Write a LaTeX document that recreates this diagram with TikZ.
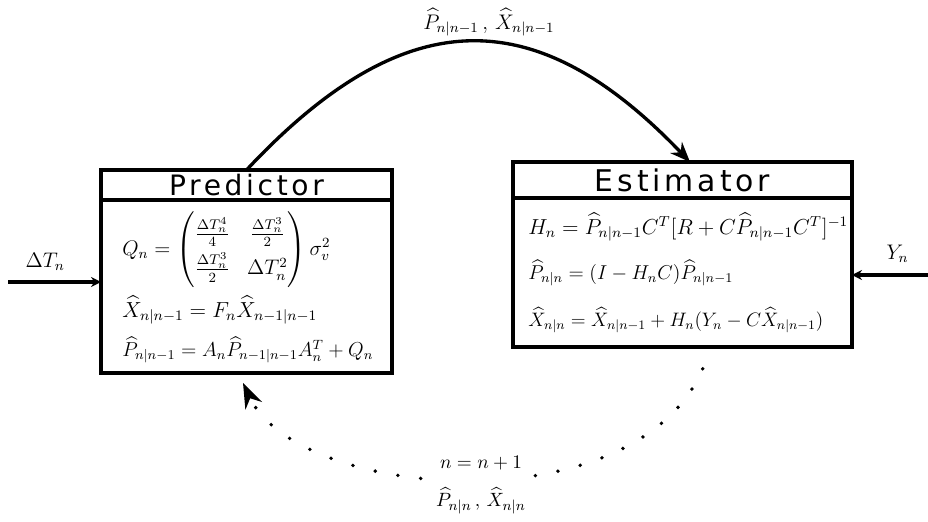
\documentclass[tikz,border=0pt]{standalone}
\usepackage{amsmath}
\usepackage{graphicx}
\usepackage{fontspec}
\newfontfamily\titlefont[LetterSpace=13]{DejaVu Sans}
\usetikzlibrary{positioning, arrows.meta}
\tikzset{
  boxtitle/.style={
    rectangle, draw, line width=1.9pt, inner sep=0pt, outer sep=0pt,
    font=\titlefont\fontsize{16}{18}\selectfont
  },
  boxbody/.style={rectangle, draw, line width=1.9pt, inner sep=0pt, outer sep=0pt},
  eqn/.style={anchor=west, inner sep=0pt, font=\fontsize{12}{14}\selectfont},
  flowarrow/.style={-{Stealth[length=4mm, width=3.2mm]}, line width=1.9pt},
  looparrow/.style={
    -{Stealth[length=5mm, width=3.6mm]}, line width=2.2pt,
    line cap=round, dash pattern=on 0pt off 13.1pt
  },
  inarrow/.style={-{Stealth[length=2mm, width=2mm]}, line width=1.9pt},
  lbl/.style={font=\fontsize{12}{14}\selectfont},
  looplbl/.style={font=\fontsize{10.95}{13}\selectfont, fill=white, align=center}
}
\newcommand{\eqw}[2]{\resizebox{#1}{!}{$#2$}}

\begin{document}
\begin{tikzpicture}[x=0.02cm, y=-0.02cm]
\useasboundingbox (0,0) rectangle (928,521);

% Predictor block
\node[boxtitle, minimum width=5.82cm, minimum height=0.6cm] (predtitle) at (246.5,185) {Predictor};
\node[boxbody, minimum width=5.82cm, minimum height=3.46cm, below=0pt of predtitle] (predbody) {};

% Estimator block
\node[boxtitle, minimum width=6.78cm, minimum height=0.72cm, font=\titlefont\fontsize{17}{19}\selectfont] (esttitle) at (682.5,180) {Estimator};
\node[boxbody, minimum width=6.78cm, minimum height=2.98cm, below=0pt of esttitle] (estbody) {};

% Predictor equations
\node[eqn, font=\fontsize{12}{15}\selectfont] (qn) at (122,250) {\renewcommand{\arraystretch}{1.35}%
  $Q_n = \begin{pmatrix} \frac{\Delta T_n^4}{4} & \frac{\Delta T_n^3}{2} \\ \frac{\Delta T_n^3}{2} & \Delta T_n^2 \end{pmatrix} \sigma_v^2$};
\node[eqn] (xpred) at (122,310) {\eqw{3.9cm}{\widehat{X}_{n|n-1} = F_n \widehat{X}_{n-1|n-1}}};
\node[eqn] (ppred) at (122,350) {\eqw{5.02cm}{\widehat{P}_{n|n-1} = A_n \widehat{P}_{n-1|n-1} A_n^T + Q_n}};

% Estimator equations
\node[eqn] (hn) at (528,227) {\eqw{6.4cm}{H_n = \widehat{P}_{n|n-1} C^T [R + C \widehat{P}_{n|n-1} C^T]^{-1}}};
\node[eqn] (pest) at (528,273) {\eqw{4.1cm}{\widehat{P}_{n|n} = (I - H_n C)\widehat{P}_{n|n-1}}};
\node[eqn] (xest) at (528,320) {\eqw{5.9cm}{\widehat{X}_{n|n} = \widehat{X}_{n|n-1} + H_n(Y_n - C\widehat{X}_{n|n-1})}};

% Inputs
\coordinate (dtin) at (8,282);
\coordinate (ynin) at (928,275);
\draw[inarrow] (dtin) -- (dtin -| predbody.west)
  node[pos=0.4, above=2pt, font=\fontsize{12}{14}\selectfont] {$\Delta T_n$};
\draw[inarrow] (ynin) -- (ynin -| estbody.east)
  node[pos=0.4, above=3pt, font=\fontsize{12}{14}\selectfont] {$Y_n$};

% Prediction to estimator
\draw[flowarrow] (predtitle.north) .. controls +(160,-171) and +(-153,-160) .. ([xshift=0.15cm]esttitle.north)
  node[pos=0.5, above=-1pt, xshift=0.36cm, lbl] {$\widehat{P}_{n|n-1}\,,\,\widehat{X}_{n|n-1}$};

% Estimate fed back
\draw[looparrow] ([xshift=0.55cm]estbody.south) .. controls +(-45,182) and +(57,122) .. ([xshift=-0.07cm, yshift=-0.2cm]predbody.south)
  node[pos=0.5, yshift=-0.12cm, looplbl] {$n=n+1$\\[9pt] $\widehat{P}_{n|n}\,,\,\widehat{X}_{n|n}$};

\end{tikzpicture}
\end{document}
